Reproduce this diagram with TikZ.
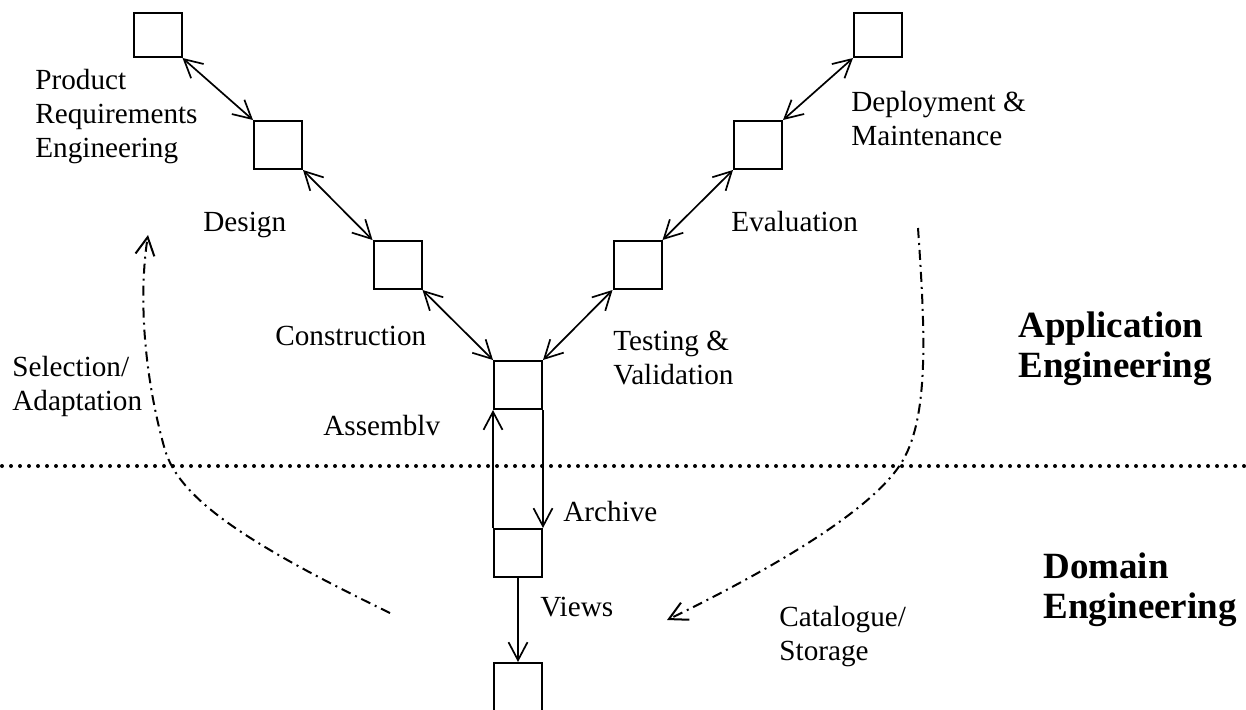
\documentclass[tikz,border=0pt]{standalone}
\usepackage{fontspec}
\setmainfont{Liberation Serif}
\usetikzlibrary{arrows.meta}

\tikzset{
  phase/.style={draw, line width=1pt, inner sep=0pt, minimum width=24pt, minimum height=24pt},
  topphase/.style={phase, minimum height=22pt},
  lbl/.style={anchor=base west, inner sep=0pt, align=left, font=\fontsize{14.6}{16.9}\selectfont},
  big/.style={lbl, font=\fontsize{18.5}{20}\selectfont\bfseries},
  flow/.style={line width=0.85pt, ->},
  step2/.style={line width=0.85pt, <->},
  reuse/.style={line width=1pt, ->, dash pattern=on 5pt off 2.5pt on 1pt off 2.5pt},
}

\begin{document}
\begin{tikzpicture}[x=0.5pt, y=-0.5pt, >={Straight Barb[length=9pt,width=9.5pt]}]
  \useasboundingbox (0,0) rectangle (1246,709);

  % Phases
  \node (prodreq) at (157.5, 35) [topphase] {};
  \node (design) at (278, 145) [phase] {};
  \node (construct) at (397.5, 265) [phase] {};
  \node (assembly) at (518, 385) [phase] {};
  \node (testing) at (637.5, 265) [phase] {};
  \node (evaluate) at (758, 145) [phase] {};
  \node (deploy) at (878, 35) [topphase] {};
  \node (archive) at (518, 553) [phase] {};
  \node (views) at (518, 687) [phase] {};

  % Labels (multi-line ones sit on their last baseline)
  \node (lprodreq) at (35, 157) [lbl] {Product\\Requirements\\Engineering};
  \node (ldesign) at (203, 231) [lbl] {Design};
  \node (lconstruct) at (275, 345) [lbl] {Construction};
  \node (lassembly) at (323, 435) [lbl] {Assemblv};
  \node (lselect) at (12, 410) [lbl] {Selection/\\Adaptation};
  \node (ltesting) at (613, 384) [lbl] {Testing \&\\Validation};
  \node (levaluate) at (731, 231) [lbl] {Evaluation};
  \node (ldeploy) at (851, 145) [lbl] {Deployment \&\\Maintenance};
  \node (larchive) at (563, 521) [lbl] {Archive};
  \node (lviews) at (540, 616) [lbl] {Views};
  \node (lcatalog) at (779, 660) [lbl] {Catalogue/\\Storage};
  \node (lappl) at (1018, 377) [big] {Application\\Engineering};
  \node (ldomain) at (1043, 618) [big] {Domain\\Engineering};

  % Edges
  \draw[step2] (prodreq.south east) to (design.north west);
  \draw[step2] (design.south east) to (construct.north west);
  \draw[step2] (construct.south east) to (assembly.north west);
  \draw[step2] (testing.south west) to (assembly.north east);
  \draw[step2] (evaluate.south west) to (testing.north east);
  \draw[step2] (deploy.south west) to (evaluate.north east);

  \draw[flow] (archive.north west) to (assembly.south west);
  \draw[flow] (assembly.south east) to (archive.north east);
  \draw[flow] (archive.south) to (views.north);

  % Separator
  \draw[line width=2pt, line cap=round, dash pattern=on 0pt off 4.5pt] (2,466) -- (1246,466);

  % Reuse
  \draw[reuse] (390,613) .. controls (250,545) and (180,500) .. (165,450)
    .. controls (145,380) and (138,300) .. (148,235);
  \draw[reuse] (918,228) .. controls (925,330) and (930,420) .. (900,465)
    .. controls (870,510) and (780,565) .. (667,620);
\end{tikzpicture}
\end{document}
